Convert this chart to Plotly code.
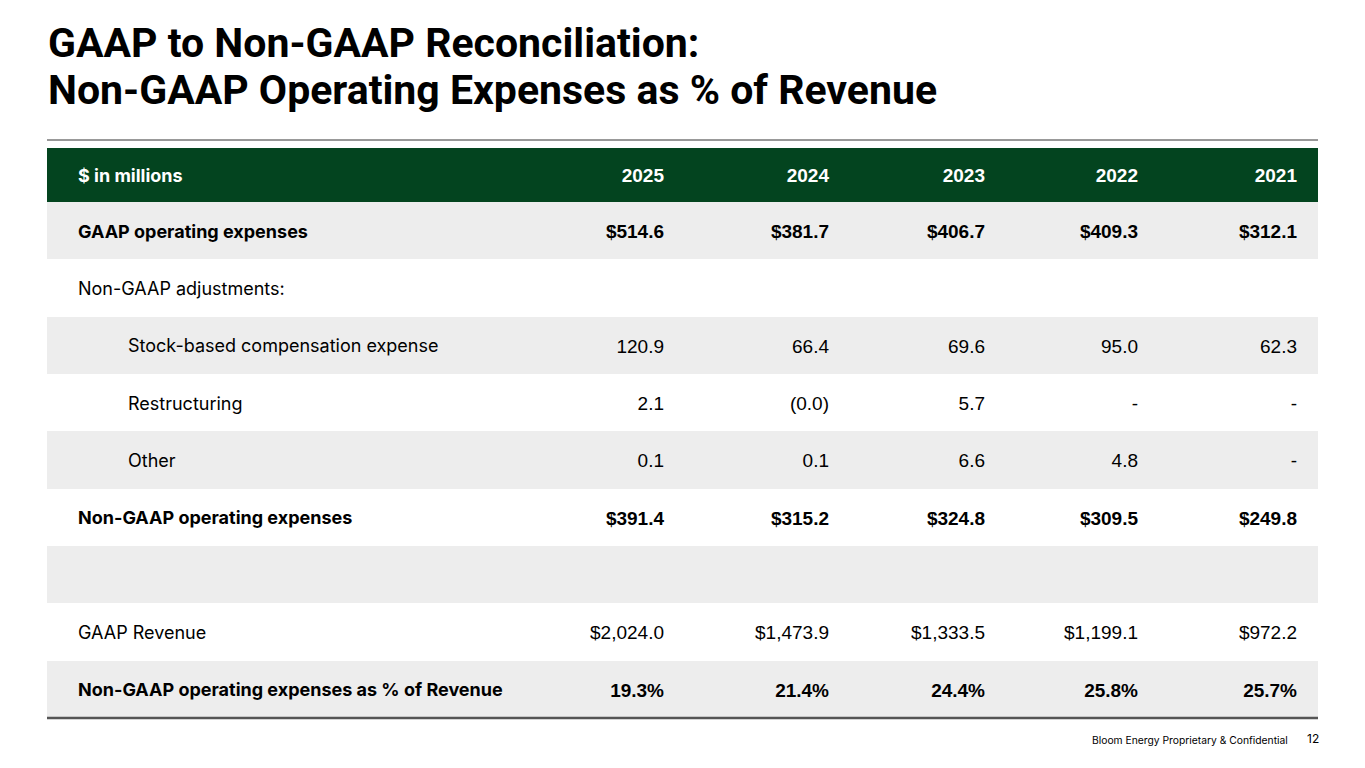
import plotly.graph_objects as go

# table content
years = ["2025", "2024", "2023", "2022", "2021"]
row_labels = [
    "GAAP operating expenses",
    "Non-GAAP adjustments:",
    "Stock-based compensation expense",
    "Restructuring",
    "Other",
    "Non-GAAP operating expenses",
    "",
    "GAAP Revenue",
    "Non-GAAP operating expenses as % of Revenue",
]
gaap_opex = ["$514.6", "$381.7", "$406.7", "$409.3", "$312.1"]
adjustments = ["", "", "", "", ""]
stock_comp = ["120.9", "66.4", "69.6", "95.0", "62.3"]
restructuring = ["2.1", "(0.0)", "5.7", "-", "-"]
other = ["0.1", "0.1", "6.6", "4.8", "-"]
non_gaap_opex = ["$391.4", "$315.2", "$324.8", "$309.5", "$249.8"]
spacer = ["", "", "", "", ""]
gaap_revenue = ["$2,024.0", "$1,473.9", "$1,333.5", "$1,199.1", "$972.2"]
opex_pct = ["19.3%", "21.4%", "24.4%", "25.8%", "25.7%"]

rows = [gaap_opex, adjustments, stock_comp, restructuring, other,
        non_gaap_opex, spacer, gaap_revenue, opex_pct]
bold_rows = [True, False, False, False, False, True, False, False, True]
indented = [False, False, True, True, True, False, False, False, False]

title_lines = ["GAAP to Non-GAAP Reconciliation:",
               "Non-GAAP Operating Expenses as % of Revenue"]

# layout (pixels inside the table area); page body adds an 8px offset
W, H = 1365, 768
L, T = 47 - 8, 148 - 8
table_w = 1271
table_h = 570
R = W - L - table_w
B = H - T - table_h
header_h = 54
row_h = (table_h - header_h) / len(rows)
label_x = 31
indent_x = 81
col_right = [617, 782, 938, 1091, 1250]
text_dy = 2.5  # nudge text down to sit centred like the slide

GREEN = "#03441f"
GRAY = "#ededed"
LABEL_FONT = "Inter, Lato, sans-serif"
NUM_FONT = "Liberation Sans, Arial, sans-serif"

centers = [header_h / 2] + [header_h + row_h * (i + 0.5) for i in range(len(rows))]
text_y = [c + text_dy for c in centers]
widths = [header_h] + [row_h] * len(rows)
fills = [GREEN] + [GRAY if i % 2 == 0 else "white" for i in range(len(rows))]

fig = go.Figure()

# row backgrounds
fig.add_trace(go.Bar(
    y=centers, x=[table_w] * len(centers), base=0, width=widths,
    orientation="h", marker=dict(color=fills, line=dict(width=0)),
    hoverinfo="skip", showlegend=False,
))

# labels
lab_text = ["<b>$ in millions</b>"] + [
    "<b>%s</b>" % t if b else t for t, b in zip(row_labels, bold_rows)]
lab_x = [label_x] + [indent_x if ind else label_x for ind in indented]
lab_col = ["white"] + ["black"] * len(rows)
fig.add_trace(go.Scatter(
    x=lab_x, y=text_y, text=lab_text, mode="text",
    textposition="middle right",
    textfont=dict(family=LABEL_FONT, size=18, color=lab_col),
    hoverinfo="skip", showlegend=False,
))

# value columns
for j, yr in enumerate(years):
    vals = ["<b>%s</b>" % yr] + [
        "<b>%s</b>" % r[j] if b else r[j] for r, b in zip(rows, bold_rows)]
    fig.add_trace(go.Scatter(
        x=[col_right[j]] * len(vals), y=text_y, text=vals, mode="text",
        textposition="middle left",
        textfont=dict(family=NUM_FONT, size=19, color=lab_col),
        hoverinfo="skip", showlegend=False,
    ))

fig.update_xaxes(range=[0, table_w], visible=False, fixedrange=True)
fig.update_yaxes(range=[table_h, 0], visible=False, fixedrange=True)

# rule under the title, bottom rule of the table
fig.add_shape(type="line", xref="paper", yref="paper",
              x0=0, x1=1, y0=1 + 8 / table_h, y1=1 + 8 / table_h,
              line=dict(color="#333333", width=1))
fig.add_shape(type="line", xref="paper", yref="paper",
              x0=0, x1=1, y0=0, y1=0,
              line=dict(color="#555555", width=2.5))

# title, one annotation per line
for line, cy in zip(title_lines, [105, 58]):
    fig.add_annotation(
        text="<b>%s</b>" % line,
        xref="paper", yref="paper", x=0, y=1 + cy / table_h,
        xanchor="left", yanchor="middle", align="left", showarrow=False,
        xshift=-1,
        font=dict(family="Roboto, sans-serif", size=41, color="black"),
    )

fig.add_annotation(
    text="Bloom Energy Proprietary & Confidential",
    xref="paper", yref="paper", x=1243 / table_w, y=-22 / table_h,
    xanchor="right", yanchor="middle", showarrow=False,
    font=dict(family=LABEL_FONT, size=10.3, color="black"),
)
fig.add_annotation(
    text="12",
    xref="paper", yref="paper", x=1274 / table_w, y=-21 / table_h,
    xanchor="right", yanchor="middle", showarrow=False,
    font=dict(family=LABEL_FONT, size=12, color="black"),
)

fig.update_layout(
    width=W, height=H, autosize=False,
    margin=dict(l=L, r=R, t=T, b=B, pad=0),
    paper_bgcolor="white", plot_bgcolor="white",
    bargap=0, barmode="overlay",
)

fig.write_html("out.html")
